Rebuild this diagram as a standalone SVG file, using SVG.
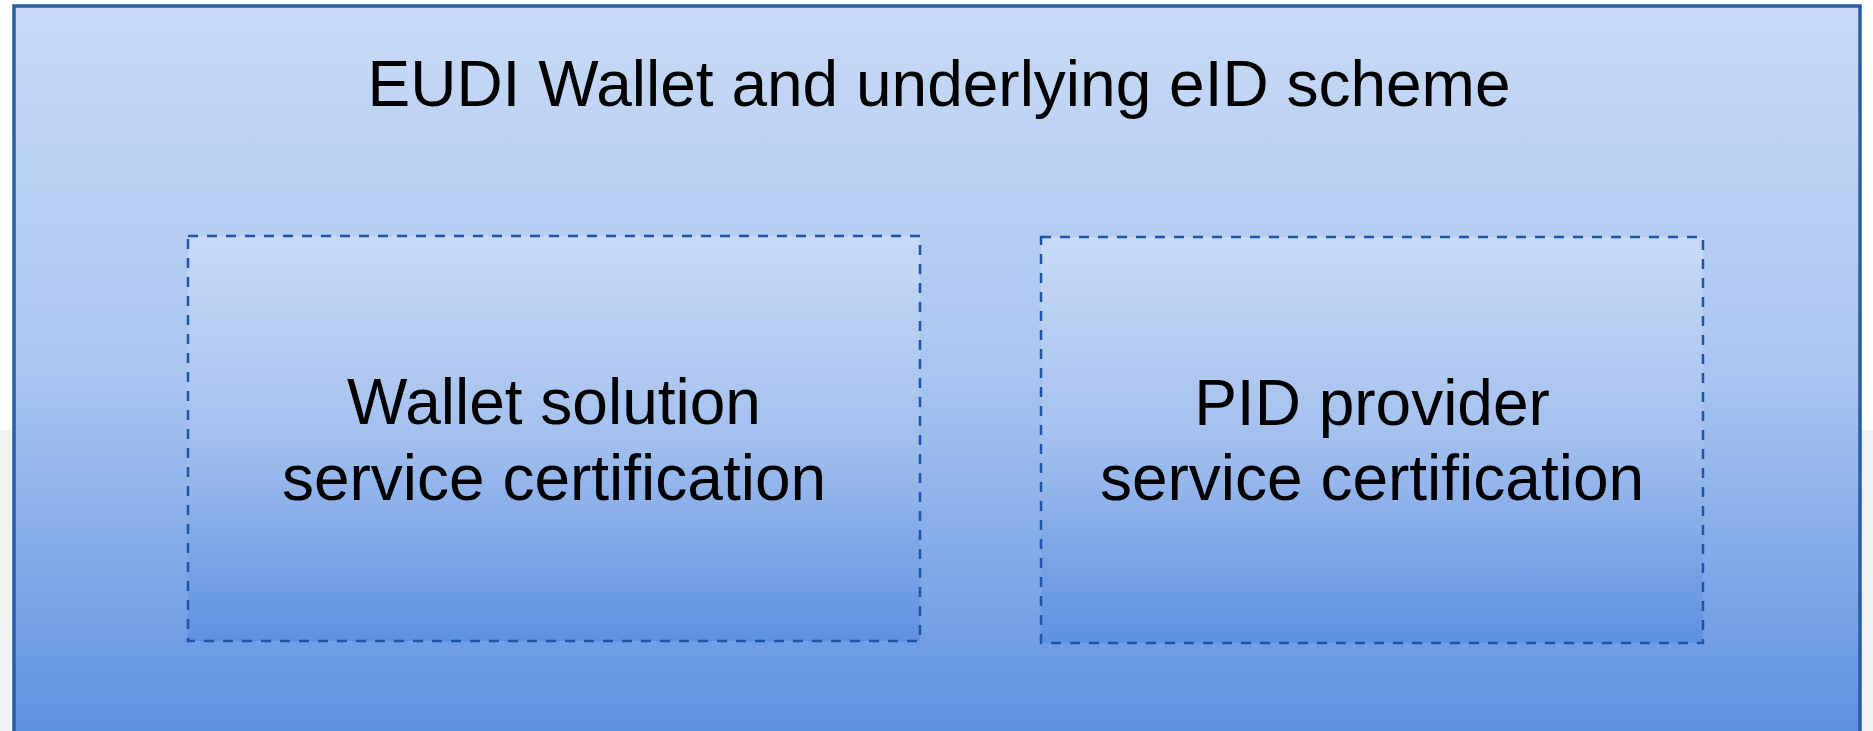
<svg xmlns="http://www.w3.org/2000/svg" width="1873" height="731" viewBox="0 0 1873 731">
<defs>
<linearGradient id="gOuter" x1="0" y1="0" x2="0" y2="1">
<stop offset="0" stop-color="#c8daf5"/>
<stop offset="0.5" stop-color="#a9c5f0"/>
<stop offset="1" stop-color="#5b8fe0"/>
</linearGradient>
<linearGradient id="gInner" x1="0" y1="0" x2="0" y2="1">
<stop offset="0" stop-color="#c8daf5"/>
<stop offset="0.5" stop-color="#a3c0ee"/>
<stop offset="1" stop-color="#5e91e1"/>
</linearGradient>
</defs>
<style>
.t{font-family:"Liberation Sans",Arial,sans-serif;font-size:64px;fill:#000;text-anchor:middle}
.inner{fill:url(#gInner);stroke:#1f55a6;stroke-width:2.5;stroke-dasharray:10 9}
</style>
<rect x="0" y="0" width="1873" height="731" fill="#ffffff"/>
<rect x="0" y="430" width="1873" height="301" fill="#f2f2f2"/>
<g id="outer">
<rect x="14" y="6" width="1846" height="740" fill="url(#gOuter)" stroke="#2b5ca8" stroke-width="3.5"/>
<text class="t" x="939" y="106">EUDI Wallet and underlying eID scheme</text>
</g>
<g id="wallet">
<rect class="inner" x="188" y="236" width="732" height="405"/>
<text class="t" x="554" y="424">Wallet solution</text>
<text class="t" x="554" y="500">service certification</text>
</g>
<g id="pid">
<rect class="inner" x="1041" y="237" width="662" height="406"/>
<text class="t" x="1372" y="425">PID provider</text>
<text class="t" x="1372" y="500">service certification</text>
</g>
<g id="connectors"/>
</svg>
